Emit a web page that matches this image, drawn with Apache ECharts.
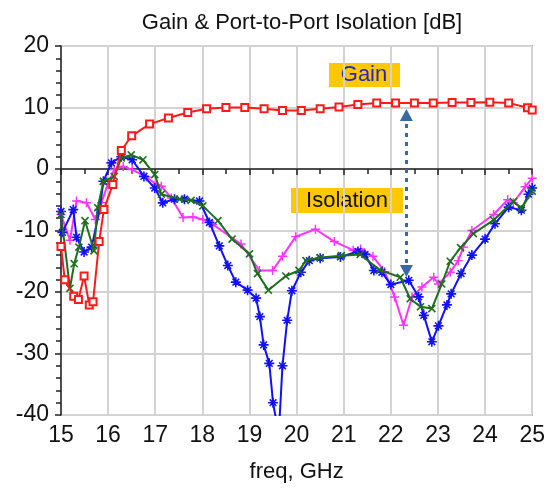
<!DOCTYPE html>
<html>
<head>
<meta charset="utf-8">
<script src="https://cdn.jsdelivr.net/npm/echarts@6/dist/echarts.min.js"></script>
<style>
  html, body { margin: 0; padding: 0; background: #fff; }
  #chart { width: 548px; height: 488px; }
</style>
</head>
<body>
<div id="chart"></div>
<script>
// values (freq in GHz, level in dB)
const gainFreq = [15.0, 15.08, 15.27, 15.37, 15.49, 15.6, 15.68, 15.81, 15.91, 16.1, 16.28, 16.5, 16.88, 17.28, 17.69, 18.09, 18.5, 18.9, 19.31, 19.7, 20.1, 20.5, 20.9, 21.3, 21.7, 22.1, 22.5, 22.9, 23.3, 23.7, 24.1, 24.5, 24.9, 25.0];
const gainDb = [-12.6, -18.0, -20.7, -21.2, -17.4, -22.1, -21.6, -11.8, -6.6, -2.5, 3.0, 5.4, 7.3, 8.3, 9.2, 9.8, 10.0, 10.0, 9.8, 9.5, 9.5, 9.8, 10.1, 10.5, 10.75, 10.75, 10.75, 10.75, 10.8, 10.8, 10.85, 10.75, 9.95, 9.6];

const blueFreq = [15.0, 15.03, 15.26, 15.33, 15.49, 15.65, 15.82, 15.9, 16.07, 16.28, 16.51, 16.76, 16.99, 17.16, 17.41, 17.62, 17.94, 18.15, 18.36, 18.54, 18.71, 18.96, 19.14, 19.22, 19.3, 19.42, 19.5, 19.57, 19.64, 19.7, 19.8, 19.9, 20.09, 20.27, 20.5, 20.93, 21.3, 21.45, 21.64, 21.81, 22.0, 22.38, 22.59, 22.7, 22.87, 23.01, 23.19, 23.28, 23.49, 23.72, 24.0, 24.21, 24.5, 24.77, 24.92, 25.0];
const blueDb = [-6.9, -10.3, -6.6, -11.1, -13.5, -12.7, -6.6, -2.0, 1.0, 2.0, 1.5, -1.2, -3.1, -5.5, -4.9, -4.9, -5.2, -8.7, -12.5, -15.7, -18.4, -19.7, -21.0, -24.0, -28.6, -31.6, -38.0, -41.0, -40.5, -32.0, -24.6, -19.8, -16.8, -14.9, -14.5, -14.3, -13.4, -13.9, -16.5, -16.8, -18.8, -18.1, -20.8, -23.8, -28.1, -25.5, -22.1, -20.3, -17.0, -14.0, -11.4, -8.9, -6.2, -6.7, -4.1, -3.1];

const magFreq = [15.0, 15.19, 15.33, 15.54, 15.73, 15.86, 15.99, 16.13, 16.32, 16.51, 16.81, 17.02, 17.13, 17.34, 17.59, 17.8, 18.01, 18.22, 18.82, 19.21, 19.49, 19.7, 19.98, 20.4, 20.8, 21.2, 21.36, 21.62, 21.87, 22.08, 22.27, 22.45, 22.66, 22.91, 23.01, 23.26, 23.43, 23.54, 23.72, 24.18, 24.48, 24.6, 24.85, 25.0];
const magDb = [-7.4, -11.6, -5.2, -5.5, -8.2, -5.5, -2.5, -0.1, 0.4, -0.1, -1.3, -2.5, -2.8, -4.7, -7.9, -7.8, -8.2, -9.0, -12.2, -16.5, -16.5, -14.2, -11.0, -9.8, -11.8, -13.2, -13.0, -14.2, -16.7, -20.8, -25.4, -20.8, -19.2, -17.6, -18.7, -16.8, -14.9, -12.7, -10.0, -7.4, -5.0, -5.5, -2.9, -1.5];

const greenFreq = [15.0, 15.19, 15.28, 15.38, 15.51, 15.7, 15.78, 15.9, 16.13, 16.28, 16.49, 16.74, 16.99, 17.13, 17.52, 17.76, 18.01, 18.33, 18.63, 19.0, 19.17, 19.4, 19.77, 20.05, 20.2, 20.5, 20.95, 21.35, 21.76, 22.2, 22.41, 22.63, 22.87, 23.08, 23.26, 23.48, 23.75, 24.18, 24.6, 24.77, 25.0];
const greenDb = [-7.4, -19.4, -15.4, -12.7, -8.4, -13.3, -6.3, -2.0, -1.2, 1.8, 2.3, 1.5, -0.9, -4.1, -4.9, -5.1, -6.0, -8.4, -11.4, -13.8, -17.0, -19.7, -17.4, -16.5, -14.9, -14.4, -14.1, -13.9, -16.4, -17.6, -21.1, -22.4, -22.7, -18.7, -15.0, -12.8, -10.5, -8.3, -5.3, -6.4, -3.6];

// double arrow between gain and isolation
const arrowFreq = 22.33;
const arrowDb = [8.8, -16.6];

const pairs = (xs, ys) => xs.map((x, i) => [x, ys[i]]);

const FONT = '"Liberation Sans", Arial, sans-serif';
const plusPath = 'path://M-0.8,-5H0.8V-0.8H5V0.8H0.8V5H-0.8V0.8H-5V-0.8H-0.8Z';
const starPath = 'path://M-0.8,-5H0.8V-0.8H5V0.8H0.8V5H-0.8V0.8H-5V-0.8H-0.8Z' +
  'M-3.9,-2.8L-2.8,-3.9L0,-1.1L2.8,-3.9L3.9,-2.8L1.1,0L3.9,2.8L2.8,3.9L0,1.1L-2.8,3.9L-3.9,2.8L-1.1,0Z';

const chart = echarts.init(document.getElementById('chart'));

const option = {
  backgroundColor: '#fff',
  animation: false,
  title: {
    text: 'Gain & Port-to-Port Isolation [dB]',
    left: 297,
    textAlign: 'center',
    top: 7,
    textStyle: { fontFamily: FONT, fontSize: 22, fontWeight: 'normal', color: '#111' }
  },
  grid: {
    left: 61, right: 13, top: 46, bottom: 68,
    show: true, borderColor: '#808080', borderWidth: 1.5
  },
  xAxis: {
    type: 'value',
    min: 15, max: 25, interval: 1,
    name: 'freq, GHz',
    nameLocation: 'middle',
    nameGap: 46,
    nameTextStyle: { fontFamily: FONT, fontSize: 22, color: '#111' },
    axisLine: { lineStyle: { color: '#222', width: 1.5 } },
    axisTick: { inside: false, length: 6, lineStyle: { color: '#222', width: 1.5 } },
    minorTick: { show: true, splitNumber: 2, length: 5, lineStyle: { color: '#222', width: 1.5 } },
    axisLabel: { fontFamily: FONT, fontSize: 23, color: '#111', margin: 9 },
    splitLine: { show: true, lineStyle: { color: '#d3d3d3', width: 2 } }
  },
  yAxis: {
    type: 'value',
    min: -40, max: 20, interval: 10,
    axisLine: { show: true, lineStyle: { color: '#222', width: 1.5 } },
    axisTick: { show: true, inside: false, length: 6, lineStyle: { color: '#222', width: 1.5 } },
    minorTick: { show: true, splitNumber: 5, length: 5, lineStyle: { color: '#222', width: 1.5 } },
    axisLabel: { fontFamily: FONT, fontSize: 23, color: '#111', margin: 12 },
    splitLine: { show: true, lineStyle: { color: '#d3d3d3', width: 2 } }
  },
  graphic: [
    {
      type: 'group', left: 329, top: 63,
      children: [
        { type: 'rect', shape: { x: 0, y: 0, width: 71, height: 24 }, style: { fill: '#ffc800' } },
        { type: 'text', x: 35, y: 12, style: { text: 'Gain', fontFamily: FONT, fontSize: 22, fill: '#2424c8', align: 'center', verticalAlign: 'middle' } }
      ]
    },
    {
      type: 'group', left: 291, top: 188,
      children: [
        { type: 'rect', shape: { x: 0, y: 0, width: 112, height: 25 }, style: { fill: '#ffc800' } },
        { type: 'text', x: 56, y: 13, style: { text: 'Isolation', fontFamily: FONT, fontSize: 22, fill: '#111', align: 'center', verticalAlign: 'middle' } }
      ]
    }
  ],
  series: [
    {
      name: 'iso3', type: 'line',
      data: pairs(magFreq, magDb),
      symbol: plusPath, symbolSize: 9, showAllSymbol: true,
      lineStyle: { color: '#ff33ff', width: 2 },
      itemStyle: { color: '#ff33ff' },
      z: 2
    },
    {
      name: 'iso1', type: 'line',
      data: pairs(blueFreq, blueDb),
      symbol: starPath, symbolSize: 10, showAllSymbol: true,
      lineStyle: { color: '#1010ff', width: 2 },
      itemStyle: { color: '#1010ff' },
      z: 3
    },
    {
      name: 'iso2', type: 'line',
      data: pairs(greenFreq, greenDb),
      symbol: plusPath, symbolRotate: 45, symbolSize: 10, showAllSymbol: true,
      lineStyle: { color: '#1f6e1f', width: 2 },
      itemStyle: { color: '#1f6e1f' },
      z: 4
    },
    {
      name: 'gain', type: 'line',
      data: pairs(gainFreq, gainDb),
      symbol: 'emptyRect', symbolSize: 7, showAllSymbol: true,
      lineStyle: { color: '#ff1a1a', width: 2 },
      itemStyle: { color: '#ff1a1a', borderWidth: 1.5 },
      z: 5,
      markLine: {
        silent: true,
        symbol: ['triangle', 'triangle'],
        symbolSize: [13, 12],
        label: { show: false },
        lineStyle: { color: '#3a69a2', width: 3, type: [4, 5] },
        data: [[{ coord: [arrowFreq, arrowDb[0]] }, { coord: [arrowFreq, arrowDb[1]] }]]
      }
    }
  ]
};

chart.setOption(option);
</script>
</body>
</html>
